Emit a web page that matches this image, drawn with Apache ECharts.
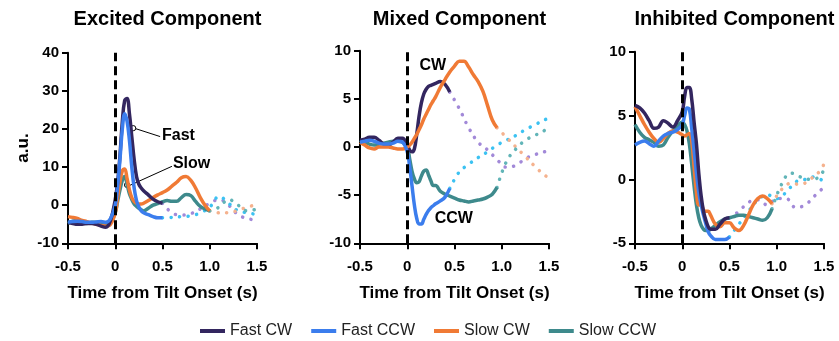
<!DOCTYPE html>
<html><head><meta charset="utf-8">
<script src="https://cdn.jsdelivr.net/npm/echarts@6/dist/echarts.min.js"></script>
<style>html,body{margin:0;padding:0;background:#fff}#c{width:839px;height:341px}</style>
</head><body><div id="c"></div>
<script>
// ---- shared time grid for solid traces (s) ----
const T = [-0.5,-0.45,-0.4,-0.35,-0.3,-0.25,-0.2,-0.15,-0.1,-0.05,0,0.025,0.05,0.075,0.1,0.125,0.15,0.175,0.2,0.225,0.25,0.275,0.3,0.35,0.4,0.45,0.5,0.55,0.6,0.65,0.7,0.75,0.8,0.85,0.9,0.95,1.0];
const xTicks = [-0.5, 0, 0.5, 1.0, 1.5];
const panelTitles = ['Excited Component', 'Mixed Component', 'Inhibited Component'];
const legendNames = ['Fast CW', 'Fast CCW', 'Slow CW', 'Slow CCW'];

// ---- Excited component ----
const exFastCW  = [-4.5,-4.8,-5,-5,-4.8,-4.8,-5,-5.5,-5.8,-4,1.5, 6,13,22,27.5,28,24,18,12,7.5,5.5,4.5,3.8, 2.7,1.6,0.9,0.5];
const exFastCCW = [-4.5,-4.3,-4.2,-4.3,-4.5,-4.5,-4.4,-4.3,-4.5,-3.5,0, 5,12,20,24,22,17,10,4.5,1.2,-0.5,-1.5,-2, -2.5,-3,-3.3,-3.3];
const exSlowCW  = [-3,-3.2,-3.5,-4,-4.3,-4.7,-5,-5.3,-5.5,-5,-2, 2,6,9,9.5,7,4,2,1,0.5,0.3,0.3,0.5, 1.2,2,2.7,3.3,4,5,6,7.2,7.5,6.5,4.5,2,0,-1.5];
const exSlowCCW = [-4.8,-4.2,-4,-4.3,-4.8,-4.5,-4.5,-4.7,-5,-4.5,-2, 1,4,6.5,7.5,5.5,3,1.5,0.3,-0.3,-0.8,-1.2,-1.5, -0.8,0,0.4,0.9,1.2,1,1,2,2.8,2.5,1,-0.3,-1,-1.5];
const exFastDotT = [0.5,0.6,0.7,0.8,0.9,1.0,1.1,1.2,1.3,1.4,1.5];
const exFastCWDot  = [0.5,-2,-2.6,-2.2,-1,0.5,1.5,0,-2.5,-3.5,-4];
const exFastCCWDot = [-3.3,-3.2,-3,-2.8,-2,-0.5,2.3,0.5,-1.5,-2,-2.5];
const exSlowDotT = [1.0,1.1,1.2,1.3,1.4,1.5];
const exSlowCWDot  = [-1.5,-2,-2,-1.3,-0.5,0.2];
const exSlowCCWDot = [-1.5,-0.5,1.5,0,-1.5,-1];

// ---- Mixed component ----
const mxFastCW  = [0.7,0.8,1.0,1.0,0.7,0.3,0.2,0.5,0.9,0.9,0.2, -0.3,-0.5,-0.2,1.3,3.2,4.6,5.5,6.0,6.3,6.4,6.5,6.6, 6.8,6.5,5.7];
const mxFastCCW = [0.5,0.6,0.7,0.6,0.4,0.3,0.3,0.4,0.6,0.5,-0.5, -2,-4,-6,-7.4,-8,-8,-7.5,-7,-6.6,-6.3,-6.1,-5.9, -5.6,-5.2,-4.3];
const mxSlowCW  = [0.5,0.2,-0.1,-0.2,0,0,0,-0.1,-0.2,-0.2,0, 0.2,0.5,0.9,1.3,1.8,2.3,2.9,3.4,3.9,4.4,4.8,5.2, 6.2,7,7.8,8.4,8.9,8.9,8.3,7.5,6.8,5.8,4.3,2.8,2.0];
const mxSlowCCW = [0.7,0.5,0.3,0.2,0.3,0.4,0.5,0.6,0.6,0.5,0, -1.2,-2.5,-3.3,-3.7,-3.6,-3.0,-2.5,-2.4,-2.9,-3.5,-4.0,-4.0, -4.6,-4.9,-5.1,-5.3,-5.5,-5.6,-5.7,-5.6,-5.5,-5.4,-5.2,-4.9,-4.2];
const mxFastDotT = [0.45,0.55,0.65,0.75,0.85,0.95,1.05,1.15,1.25,1.35,1.45,1.5];
const mxFastCWDot  = [5.7,4.0,2.0,0.5,-0.3,-1.3,-2.1,-1.9,-1.2,-0.8,-0.5,-0.4];
const mxFastCCWDot = [-4.3,-2.6,-1.8,-1.1,-0.5,0.2,0.7,1.2,1.8,2.3,2.8,3.0];
const mxSlowDotT = [0.95,1.05,1.15,1.25,1.35,1.45,1.5];
const mxSlowCWDot  = [2.0,1.0,0,-1.0,-2.0,-2.9,-3.2];
const mxSlowCCWDot = [-4.2,-1.5,-0.2,0.7,1.2,1.7,2.0];

// ---- Inhibited component ----
const inFastCW  = [5.8,5.6,5.2,4.6,4.0,4.1,4.6,4.4,4.1,4.6,5.3, 6.5,7.2,7.2,6.3,4.5,2.8,0.5,-1.3,-2.5,-3.2,-3.7,-3.9, -3.9,-3.5,-3.1,-3.0];
const inFastCCW = [2.7,2.9,3.0,2.8,2.6,3.0,3.4,3.6,3.7,3.9,4.3, 5.0,5.6,5.5,4.0,2.3,0.5,-1.0,-2.0,-2.8,-3.5,-4.1,-4.4, -4.7,-4.7,-4.7,-4.5];
const inSlowCW  = [5.7,5.0,4.3,3.7,3.2,2.9,3.2,3.6,3.8,3.7,3.5, 3.4,3.5,3.6,3.0,1.0,-1.0,-2.0,-2.0,-2.4,-2.5,-2.5,-2.8, -3.5,-3.7,-3.4,-3.4,-3.8,-4.0,-3.6,-2.8,-2.0,-1.5,-1.3,-1.5,-1.9];
const inSlowCCW = [4.3,3.7,3.3,3.1,2.9,2.6,2.7,3.3,3.8,4.2,4.5, 4.3,3.8,2.8,1.2,-0.5,-2.0,-3.0,-3.6,-3.9,-4.0,-4.0,-3.9, -3.6,-3.3,-3.1,-3.0,-2.9,-2.8,-2.8,-2.9,-3.0,-3.1,-3.2,-3.0,-2.3];
const inFastDotT = [0.5,0.6,0.7,0.8,0.9,1.0,1.1,1.2,1.3,1.4,1.5];
const inFastCWDot  = [-3.0,-2.5,-1.8,-1.6,-2.0,-1.5,-1.5,-2.2,-2.0,-1.3,-0.6];
const inFastCCWDot = [-4.5,-3.5,-2.5,-1.6,-1.2,-1.5,-1.0,-0.2,0,0.2,-0.2];
const inSlowDotT = [0.95,1.05,1.15,1.25,1.35,1.45,1.5];
const inSlowCWDot  = [-1.9,-0.8,-0.3,-0.4,0,0.6,1.2];
const inSlowCCWDot = [-2.3,-0.4,0.5,0.2,0,0.2,0.8];

// ---- annotation anchors (data coordinates) ----
const fastText = [0.495, 18.2], fastLeader = [[0.19, 20.2], [0.475, 18.0]];
const slowText = [0.61, 10.9], slowLeader = [[0.125, 5.3], [0.6, 10.2]];
const cwText = [0.13, 8.5], ccwText = [0.29, -7.4];

const FONT = '"Liberation Sans", Arial, Helvetica, sans-serif';
const COL = {'Fast CW':'#33265f','Fast CCW':'#3b7ded','Slow CW':'#f07a35','Slow CCW':'#3e8a8c'};
const DOT = {'Fast CW':'#a289d8','Fast CCW':'#3cc2f2','Slow CW':'#f5b28e','Slow CCW':'#62b5b8'};

const zip = (ts, vs) => vs.map((v, i) => [ts[i], v]);
function solid(name, vs, idx, extra) {
  return Object.assign({type:'line', name, xAxisIndex:idx, yAxisIndex:idx, data:zip(T, vs), smooth:0.4,
    symbol:'none', lineStyle:{color:COL[name], width:3.5}, itemStyle:{color:COL[name]}, z:3, silent:true}, extra || {});
}
function dotted(name, ts, vs, idx) {
  return {type:'line', name: name + ' (cont.)', xAxisIndex:idx, yAxisIndex:idx, data:zip(ts, vs), smooth:0.4,
    symbol:'none', lineStyle:{color:DOT[name], width:3.5, type:[0.1, 8.5], cap:'round'}, itemStyle:{color:DOT[name]}, z:2, silent:true};
}
const zeroLine = {markLine:{silent:true, symbol:['none','none'], label:{show:false},
  lineStyle:{color:'#000', width:3, type:[9,5]}, data:[{xAxis:0}]}};

const grids = [
  {left:68, top:52.7, width:189, height:190.6},
  {left:360, top:50.7, width:189, height:192.6},
  {left:635, top:51.7, width:189, height:191.6}
];
const yRanges = [[-10,40,10],[-10,10,5],[-5,10,5]];
const axisCommon = {
  axisLine:{show:true, onZero:false, lineStyle:{color:'#000', width:2}},
  axisTick:{show:true, length:6, lineStyle:{color:'#000', width:2}},
  splitLine:{show:false}
};
const xAxes = grids.map((g, i) => Object.assign({}, axisCommon, {
  type:'value', gridIndex:i, min:-0.5, max:1.5, interval:0.5,
  axisLabel:{color:'#000', fontFamily:FONT, fontWeight:'bold', fontSize:15, margin:16,
    formatter:v => (Math.abs(v) < 1e-9 ? '0' : v.toFixed(1))},
  name:'Time from Tilt Onset (s)', nameLocation:'middle', nameGap:42,
  nameTextStyle:{color:'#000', fontFamily:FONT, fontWeight:'bold', fontSize:17}
}));
const yAxes = grids.map((g, i) => Object.assign({}, axisCommon, {
  type:'value', gridIndex:i, min:yRanges[i][0], max:yRanges[i][1], interval:yRanges[i][2],
  axisLabel:{color:'#000', fontFamily:FONT, fontWeight:'bold', fontSize:15, margin:9},
  name: i === 0 ? 'a.u.' : '', nameLocation:'middle', nameGap:36,
  nameTextStyle:{color:'#000', fontFamily:FONT, fontWeight:'bold', fontSize:17}
}));

const series = [
  dotted('Fast CW', exFastDotT, exFastCWDot, 0), dotted('Fast CCW', exFastDotT, exFastCCWDot, 0),
  dotted('Slow CW', exSlowDotT, exSlowCWDot, 0), dotted('Slow CCW', exSlowDotT, exSlowCCWDot, 0),
  solid('Slow CCW', exSlowCCW, 0, zeroLine), solid('Slow CW', exSlowCW, 0), solid('Fast CW', exFastCW, 0), solid('Fast CCW', exFastCCW, 0),

  dotted('Fast CW', mxFastDotT, mxFastCWDot, 1), dotted('Fast CCW', mxFastDotT, mxFastCCWDot, 1),
  dotted('Slow CW', mxSlowDotT, mxSlowCWDot, 1), dotted('Slow CCW', mxSlowDotT, mxSlowCCWDot, 1),
  solid('Slow CCW', mxSlowCCW, 1, zeroLine), solid('Fast CW', mxFastCW, 1), solid('Slow CW', mxSlowCW, 1), solid('Fast CCW', mxFastCCW, 1),

  dotted('Fast CW', inFastDotT, inFastCWDot, 2), dotted('Fast CCW', inFastDotT, inFastCCWDot, 2),
  dotted('Slow CW', inSlowDotT, inSlowCWDot, 2), dotted('Slow CCW', inSlowDotT, inSlowCCWDot, 2),
  solid('Slow CCW', inSlowCCW, 2, zeroLine), solid('Slow CW', inSlowCW, 2), solid('Fast CCW', inFastCCW, 2), solid('Fast CW', inFastCW, 2)
];

const option = {
  backgroundColor:'#fff',
  animation:false,
  title: panelTitles.map((t, i) => ({text:t, left:grids[i].left + grids[i].width / 2, textAlign:'center', top:4,
    textStyle:{color:'#000', fontFamily:FONT, fontWeight:'bold', fontSize:20}})),
  legend:{data:legendNames, left:195, top:318, icon:'rect', itemWidth:25, itemHeight:4, itemGap:19,
    textStyle:{color:'#222', fontFamily:FONT, fontSize:16}},
  grid:grids, xAxis:xAxes, yAxis:yAxes, series
};
const chart = echarts.init(document.getElementById('c'), null, {renderer:'canvas'});
chart.setOption(option);

const px = (g, p) => chart.convertToPixel({gridIndex:g}, p);
const txt = (g, p, s) => { const q = px(g, p); return {type:'text', x:q[0], y:q[1], silent:true,
  style:{text:s, fill:'#000', font:'bold 16px ' + FONT, textVerticalAlign:'middle', textAlign:'left', verticalAlign:'middle', align:'left'}}; };
const leader = (g, seg) => { const a = px(g, seg[0]), b = px(g, seg[1]); return [
  {type:'line', silent:true, shape:{x1:a[0] + 2.5, y1:a[1] + 0.5, x2:b[0], y2:b[1]}, style:{stroke:'#000', lineWidth:1}},
  {type:'circle', silent:true, shape:{cx:a[0], cy:a[1], r:2.6}, style:{stroke:'#000', fill:'none', lineWidth:1}}]; };
chart.setOption({graphic:[
  txt(0, fastText, 'Fast'), txt(0, slowText, 'Slow'), ...leader(0, fastLeader), ...leader(0, slowLeader),
  txt(1, cwText, 'CW'), txt(1, ccwText, 'CCW')
]});
</script></body></html>
